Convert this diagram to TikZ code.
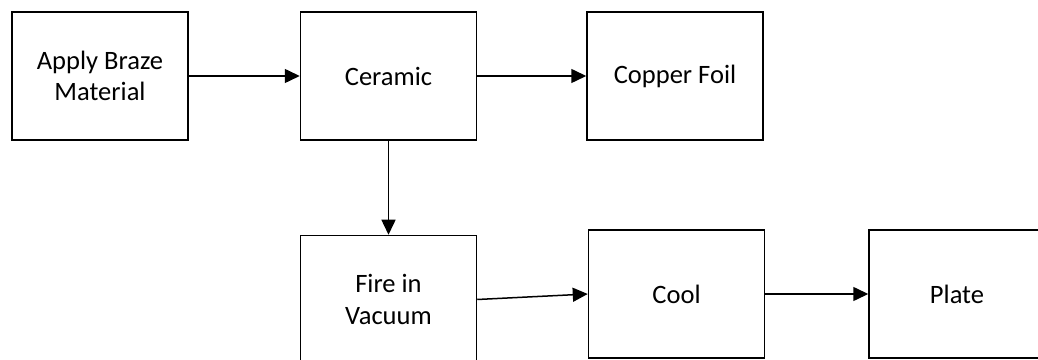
\documentclass[tikz,border=0pt]{standalone}
\usepackage{fontspec}
\setmainfont{Carlito}
\usepackage{tikz}
\usetikzlibrary{positioning, arrows.meta}

\begin{document}
\begin{tikzpicture}[
    stepbox/.style={draw=black, line width=0.03cm, fill=white,
      minimum width=3.52cm, minimum height=2.56cm, inner sep=4pt,
      font=\fontsize{15.1}{17.8}\selectfont, align=center},
    arrow/.style={-{Triangle[length=0.3cm, width=0.28cm]}, line width=0.03cm},
  ]
    \useasboundingbox (0,0) rectangle (20.76,-7.2);
    \node[stepbox] (braze) at (2.00, -1.52) {Apply Braze\\Material};
    \node[stepbox, right=2.22cm of braze] (ceramic) {Ceramic};
    \node[stepbox, right=2.18cm of ceramic] (copper) {Copper Foil};
    \node[stepbox, below=1.88cm of ceramic] (fire) {Fire in\\Vacuum};
    \node[stepbox] (cool) at (13.53, -5.88) {Cool};
    \node[stepbox, right=2.06cm of cool] (plate) {Plate};
    \draw[arrow] (braze.east) -- (ceramic.west);
    \draw[arrow] (ceramic.east) -- (copper.west);
    \draw[arrow] (ceramic.south) -- (fire.north);
    \draw[arrow] (fire.east) -- (cool.west);
    \draw[arrow] (cool.east) -- (plate.west);
  \end{tikzpicture}
\end{document}
